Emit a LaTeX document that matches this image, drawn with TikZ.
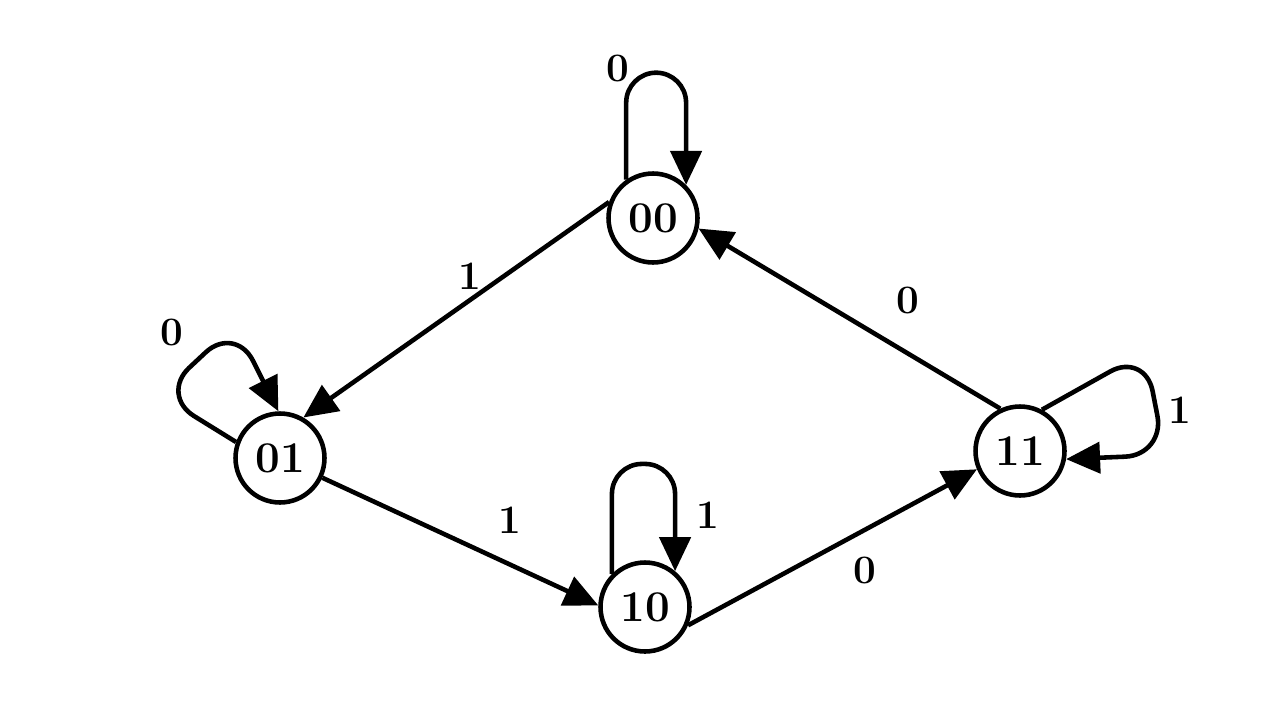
\documentclass[tikz,border=0pt]{standalone}
\usepackage{tikz}
\usetikzlibrary{arrows.meta}

\begin{document}
\begin{tikzpicture}[
  x=0.02cm, y=-0.02cm,
  state/.style={draw,circle,line width=2.6pt,minimum size=1.78cm,inner sep=0pt,font=\fontsize{25}{27}\selectfont\bfseries},
  lbl/.style={font=\fontsize{23}{25}\selectfont\bfseries,inner sep=1pt},
  arr/.style={-{Triangle[length=0.68cm,width=0.62cm]},line width=2.6pt}
]
\useasboundingbox (0,0) rectangle (1280,710);
\node[state] (s00) at (653,218) {00};
\node[state] (s01) at (280,458) {01};
\node[state] (s10) at (645,607) {10};
\node[state] (s11) at (1020,451) {11};
\node[lbl] (t00) at (618,68) {0};
\node[lbl] (t01) at (172,332) {0};
\node[lbl] (t10) at (708,515) {1};
\node[lbl] (t11) at (1180,410) {1};
\node[lbl] (ta) at (470,276) {1};
\node[lbl] (tb) at (510,520) {1};
\node[lbl] (tc) at (865,570) {0};
\node[lbl] (td) at (908,300) {0};
\foreach \a/\b in {s00.160/s01.60,s01.-25/s10.178,s10.-23/s11.-157,s11.115/s00.-13}
  \draw[arr] (\a) -- (\b);
\draw[arr,rounded corners=0.6cm] (s00.125) -- ++(0,-107) -| (s00.45);
\draw[arr,rounded corners=0.6cm] (s10.135) -- ++(0,-110) -| (s10.50);
\draw[arr,rounded corners=0.8cm] (s01.160) -- (160,395) -- (235,325) -- (s01.92);
\draw[arr,rounded corners=0.8cm] (s11.62) -- (1145,352) -- (1165,455) -- (s11.-10);
\end{tikzpicture}
\end{document}
